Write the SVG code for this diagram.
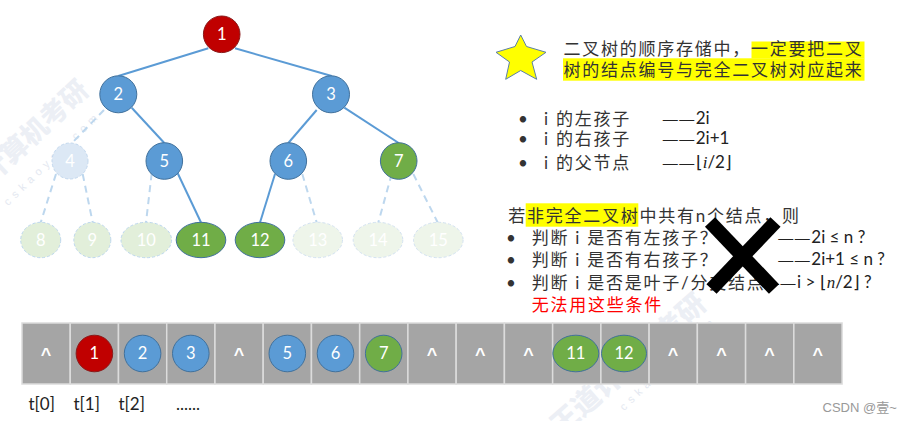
<svg xmlns="http://www.w3.org/2000/svg" width="903" height="421" viewBox="0 0 903 421">
<style>
.e{stroke:#5B9BD5;stroke-width:2;fill:none}
.d{stroke:#BDD7EE;stroke-width:2;fill:none;stroke-dasharray:7 5}
.blue{fill:#5B9BD5;stroke:#41719C;stroke-width:1}
.green{fill:#70AD47;stroke:#41719C;stroke-width:1}
.red{fill:#C00000;stroke:#8A1A1A;stroke-width:1}
.f4{fill:#DCE8F5;stroke:#C3D8EE;stroke-width:1;stroke-dasharray:3 2}
.f8{fill:#E2EFDA;stroke:#BDD7EE;stroke-width:1;stroke-dasharray:3 2}
.f13{fill:#EEF5EA;stroke:#D3E2F1;stroke-width:1;stroke-dasharray:3 2}
.n{font-family:Lato,"Liberation Sans",sans-serif;font-size:16.5px;fill:#fff;text-anchor:middle}
.cell{fill:#A5A5A5;stroke:#DCDCDC;stroke-width:1.5}
.car{font-family:"Liberation Sans",Arial,sans-serif;font-weight:bold;font-size:18px;fill:#fff;text-anchor:middle}
.cn{font-family:Lato,"Noto Sans CJK SC",sans-serif;font-size:17px;fill:#333;letter-spacing:1.75px}
.dash{font-family:"Liberation Sans",sans-serif;font-size:15px;letter-spacing:1.5px}
.lat{font-family:Lato,"Noto Sans CJK SC",sans-serif;font-size:17px;fill:#222}
.wm{font-family:"Noto Sans CJK SC",sans-serif;font-weight:900;fill:#C9D2E4;opacity:0.35}
.wm2{font-family:"Liberation Sans",sans-serif;fill:#C9D2E4;opacity:0.5;letter-spacing:5px}
</style>

<g id="watermarks">
<text class="wm" font-size="27" text-anchor="middle" transform="translate(15,150) rotate(-43)" y="9">王道计算机考研</text>
<text class="wm2" font-size="11" text-anchor="middle" transform="translate(52,158) rotate(-44)" y="4">cskaoyan.com</text>
<text class="wm" font-size="28" text-anchor="middle" transform="translate(628,364) rotate(-41.5)" y="10">王道计算机考研</text>
<text class="wm2" font-size="11" text-anchor="middle" transform="translate(668,363) rotate(-44)" y="4">cskaoyan.com</text>
</g>

<g id="connectors">
<line class="e" x1="208.3" y1="48.3" x2="118.3" y2="76"/>
<line class="e" x1="235" y1="48.3" x2="331.7" y2="76"/>
<line class="e" x1="131.7" y1="107.7" x2="164.3" y2="143"/>
<line class="e" x1="316.7" y1="110" x2="288.3" y2="143"/>
<line class="e" x1="344.3" y1="107.7" x2="398.7" y2="143"/>
<line class="e" x1="177.7" y1="173.3" x2="201" y2="222.5"/>
<line class="e" x1="275" y1="174" x2="260" y2="222.5"/>
<line class="d" x1="104" y1="110" x2="72" y2="143"/>
<line class="d" x1="56" y1="174" x2="40.7" y2="222.5"/>
<line class="d" x1="82.7" y1="174" x2="92.7" y2="222.5"/>
<line class="d" x1="151.7" y1="173.3" x2="146" y2="222.5"/>
<line class="d" x1="302.3" y1="174" x2="316.7" y2="222.5"/>
<line class="d" x1="391.7" y1="174" x2="378.3" y2="222.5"/>
<line class="d" x1="413.3" y1="174" x2="437.7" y2="222.5"/>
</g>

<g id="node1"><circle class="red" cx="221.7" cy="34.3" r="18.3"/><text class="n" x="221.7" y="40.2">1</text></g>
<g id="node2"><circle class="blue" cx="118.3" cy="94.3" r="18.5"/><text class="n" x="118.3" y="100.2">2</text></g>
<g id="node3"><circle class="blue" cx="331" cy="94.3" r="18.5"/><text class="n" x="331" y="100.2">3</text></g>
<g id="node4"><circle class="f4" cx="70" cy="161" r="18"/><text class="n" x="70" y="166.9">4</text></g>
<g id="node5"><circle class="blue" cx="164.3" cy="161" r="18.3"/><text class="n" x="164.3" y="166.9">5</text></g>
<g id="node6"><circle class="blue" cx="288.3" cy="161" r="18.3"/><text class="n" x="288.3" y="166.9">6</text></g>
<g id="node7"><circle class="green" cx="398.7" cy="161" r="18.3"/><text class="n" x="398.7" y="166.9">7</text></g>
<g id="node8"><ellipse class="f8" cx="40.7" cy="240" rx="20" ry="17.7"/><text class="n" x="40.7" y="245.9">8</text></g>
<g id="node9"><ellipse class="f8" cx="92.3" cy="240" rx="18.5" ry="17.7"/><text class="n" x="92.3" y="245.9">9</text></g>
<g id="node10"><ellipse class="f8" cx="146.3" cy="240" rx="25.3" ry="17.7"/><text class="n" x="146.3" y="245.9">10</text></g>
<g id="node11"><ellipse class="green" cx="201" cy="240" rx="24.8" ry="17.7"/><text class="n" x="201" y="245.9">11</text></g>
<g id="node12"><ellipse class="green" cx="260" cy="240" rx="24.8" ry="17.7"/><text class="n" x="260" y="245.9">12</text></g>
<g id="node13"><ellipse class="f13" cx="317.7" cy="240" rx="24.8" ry="17.7"/><text class="n" x="317.7" y="245.9">13</text></g>
<g id="node14"><ellipse class="f13" cx="378" cy="240" rx="24.8" ry="17.7"/><text class="n" x="378" y="245.9">14</text></g>
<g id="node15"><ellipse class="f13" cx="438.3" cy="240" rx="24.8" ry="17.7"/><text class="n" x="438.3" y="245.9">15</text></g>

<g id="star"><polygon points="520.7,35 526.5,46.5 546,52.3 532,62 536.7,79.3 520.7,70.5 505.7,79.3 509.5,62 496,52.3 515,46.5" fill="#FFFF00" stroke="#5B7FA8" stroke-width="1"/></g>
<g id="title">
<rect x="751.5" y="41.5" width="113" height="17" fill="#FFFF00"/>
<rect x="563" y="58.3" width="301.5" height="22.4" fill="#FFFF00"/>
<text class="cn" x="563.5" y="55">二叉树的顺序存储中，一定要把二叉</text>
<text class="cn" x="563.5" y="75.5">树的结点编号与完全二叉树对应起来</text>
</g>

<g id="rules">
<text class="cn" x="518" y="125">•</text>
<text class="cn" x="518" y="145">•</text>
<text class="cn" x="518" y="169">•</text>
<text class="cn" x="544" y="125">i 的左孩子</text>
<text class="cn" x="544" y="145">i 的右孩子</text>
<text class="cn" x="544" y="169">i 的父节点</text>
<text class="lat" x="662.7" y="123.5"><tspan class="dash">——</tspan>2i</text>
<text class="lat" x="662.7" y="143.5"><tspan class="dash">——</tspan>2i+1</text>
<text class="lat" x="662.7" y="168"><tspan class="dash">——</tspan>⌊<tspan font-style="italic" font-family="'Liberation Serif',serif">i</tspan>/2⌋</text>
</g>

<g id="noncomplete">
<rect x="525.7" y="203.3" width="112.6" height="23.4" fill="#FFFF00"/>
<text class="cn" x="508.3" y="222">若非完全二叉树中共有n个结点，则</text>
<text class="cn" x="506" y="244">•</text>
<text class="cn" x="506" y="265.5">•</text>
<text class="cn" x="506" y="288.5">•</text>
<text class="cn" x="531.7" y="244">判断 i 是否有左孩子？</text>
<text class="cn" x="531.7" y="265.5">判断 i 是否有右孩子？</text>
<text class="cn" x="531.7" y="288.5">判断 i 是否是叶子/分支结点</text>
<text class="lat" x="778.3" y="243"><tspan class="dash">——</tspan>2i ≤ n ?</text>
<text class="lat" x="778.3" y="264.5"><tspan class="dash">——</tspan>2i+1 ≤ n ?</text>
<text class="lat" x="764" y="287.5"><tspan class="dash">——</tspan>i &gt; ⌊<tspan font-style="italic" font-family="'Liberation Serif',serif">n</tspan>/2⌋ ?</text>
<text class="cn" x="531.7" y="311" style="fill:#FF0000">无法用这些条件</text>
</g>

<g id="cross">
<line x1="710" y1="222" x2="774" y2="289" stroke="#000" stroke-width="14"/>
<line x1="775.5" y1="222" x2="711.5" y2="289" stroke="#000" stroke-width="14"/>
</g>

<g id="array">
<rect class="cell" x="22" y="323" width="48.24" height="61"/>
<rect class="cell" x="70.24" y="323" width="48.24" height="61"/>
<rect class="cell" x="118.48" y="323" width="48.24" height="61"/>
<rect class="cell" x="166.72" y="323" width="48.24" height="61"/>
<rect class="cell" x="214.96" y="323" width="48.24" height="61"/>
<rect class="cell" x="263.2" y="323" width="48.24" height="61"/>
<rect class="cell" x="311.44" y="323" width="48.24" height="61"/>
<rect class="cell" x="359.68" y="323" width="48.24" height="61"/>
<rect class="cell" x="407.92" y="323" width="48.24" height="61"/>
<rect class="cell" x="456.16" y="323" width="48.24" height="61"/>
<rect class="cell" x="504.4" y="323" width="48.24" height="61"/>
<rect class="cell" x="552.64" y="323" width="48.24" height="61"/>
<rect class="cell" x="600.88" y="323" width="48.24" height="61"/>
<rect class="cell" x="649.12" y="323" width="48.24" height="61"/>
<rect class="cell" x="697.36" y="323" width="48.24" height="61"/>
<rect class="cell" x="745.6" y="323" width="48.24" height="61"/>
<rect class="cell" x="793.84" y="323" width="48.24" height="61"/>
</g>
<g id="array-items">
<text class="car" x="46.1" y="361">^</text>
<circle class="red" cx="94.4" cy="353.5" r="18.3"/><text class="n" x="94.4" y="359.4">1</text>
<circle class="blue" cx="142.6" cy="353.5" r="18.3"/><text class="n" x="142.6" y="359.4">2</text>
<circle class="blue" cx="190.8" cy="353.5" r="18.3"/><text class="n" x="190.8" y="359.4">3</text>
<text class="car" x="239" y="361">^</text>
<circle class="blue" cx="287.3" cy="353.5" r="18.3"/><text class="n" x="287.3" y="359.4">5</text>
<circle class="blue" cx="335.5" cy="353.5" r="18.3"/><text class="n" x="335.5" y="359.4">6</text>
<circle class="green" cx="383.7" cy="353.5" r="18.3"/><text class="n" x="383.7" y="359.4">7</text>
<text class="car" x="432" y="361">^</text>
<text class="car" x="480.2" y="361">^</text>
<text class="car" x="528.4" y="361">^</text>
<ellipse class="green" cx="575.8" cy="353.5" rx="23" ry="18.3"/><text class="n" x="575.8" y="359.4">11</text>
<ellipse class="green" cx="624" cy="353.5" rx="22.5" ry="18.3"/><text class="n" x="624" y="359.4">12</text>
<text class="car" x="673.1" y="361">^</text>
<text class="car" x="721.4" y="361">^</text>
<text class="car" x="769.6" y="361">^</text>
<text class="car" x="817.8" y="361">^</text>
</g>

<g id="labels">
<text class="lat" x="28.5" y="410" font-size="17.5">t[0]</text>
<text class="lat" x="73.5" y="410" font-size="17.5">t[1]</text>
<text class="lat" x="118.5" y="410" font-size="17.5">t[2]</text>
<text class="lat" x="176" y="410" font-size="17.5">......</text>
<text x="822.5" y="412" font-family="'Liberation Sans','Noto Sans CJK SC',sans-serif" font-size="13" fill="#999">CSDN @壹~</text>
</g>
</svg>
